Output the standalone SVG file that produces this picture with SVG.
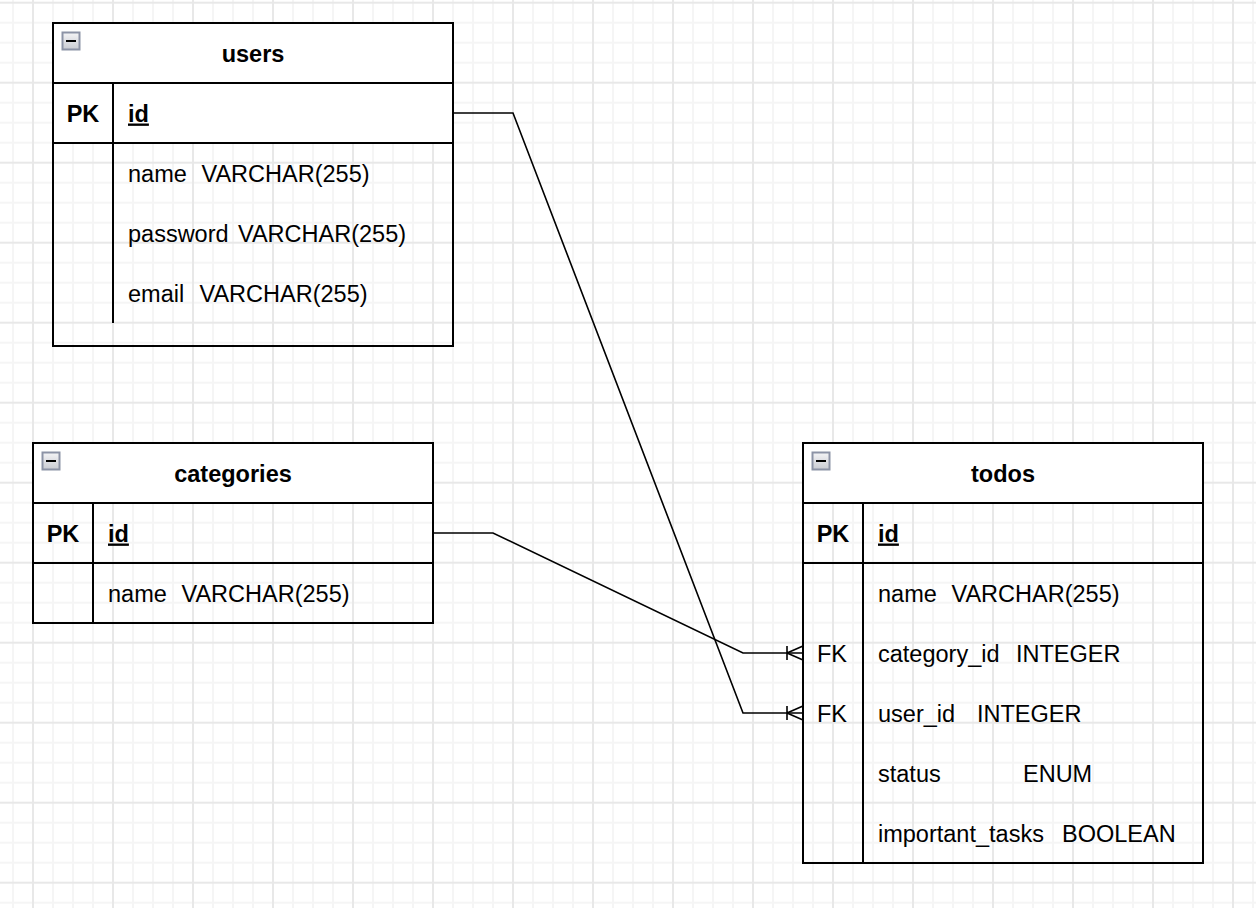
<svg xmlns="http://www.w3.org/2000/svg" width="1256" height="908" viewBox="0 0 1256 908" xml:space="preserve">
  <defs>
    <!-- background grid: minor lines every 20px, major every 80px -->
    <pattern id="grid" patternUnits="userSpaceOnUse" x="3" y="-27.3" width="80" height="80">
      <g stroke="#f5f5f5" stroke-width="2">
        <line x1="10" y1="0" x2="10" y2="80"/>
        <line x1="50" y1="0" x2="50" y2="80"/>
        <line x1="70" y1="0" x2="70" y2="80"/>
        <line x1="0" y1="10" x2="80" y2="10"/>
        <line x1="0" y1="50" x2="80" y2="50"/>
        <line x1="0" y1="70" x2="80" y2="70"/>
      </g>
      <g stroke="#e8e8e8" stroke-width="2">
        <line x1="30" y1="0" x2="30" y2="80"/>
        <line x1="0" y1="30" x2="80" y2="30"/>
      </g>
    </pattern>
    <linearGradient id="btnFill" x1="0" y1="0" x2="0" y2="1">
      <stop offset="0" stop-color="#f4f4f6"/>
      <stop offset="1" stop-color="#c9cbd2"/>
    </linearGradient>
    <!-- collapse button drawn in each table header -->
    <g id="collapse">
      <rect x="0" y="0" width="17" height="17" fill="url(#btnFill)" stroke="#8c93a6" stroke-width="2"/>
      <rect x="3.5" y="7.5" width="10" height="2" fill="#000"/>
    </g>
  </defs>
  <style>
    .frame { fill: none; stroke: #000; stroke-width: 2; }
    .sep { stroke: #000; stroke-width: 2; }
    .head { fill: #fff; }
    .title { font-family: "Liberation Sans", Helvetica, Arial, sans-serif; font-size: 23.5px; font-weight: bold; text-anchor: middle; fill: #000; }
    .key { font-family: "Liberation Sans", Helvetica, Arial, sans-serif; font-size: 23.5px; font-weight: bold; text-anchor: middle; fill: #000; }
    .fk { font-family: "Liberation Sans", Helvetica, Arial, sans-serif; font-size: 23.5px; text-anchor: middle; fill: #000; }
    .pkname { font-family: "Liberation Sans", Helvetica, Arial, sans-serif; font-size: 23.5px; font-weight: bold; text-decoration: underline; fill: #000; }
    .field { font-family: "Liberation Sans", Helvetica, Arial, sans-serif; font-size: 23.5px; fill: #000; }
    .edge { fill: none; stroke: #000; stroke-width: 1.6; }
  </style>

  <rect x="0" y="0" width="1256" height="908" fill="#fff"/>
  <rect x="0" y="0" width="1256" height="908" fill="url(#grid)"/>

  <!-- relationships -->
  <g id="connectors">
    <g id="edge-users-todos">
      <path class="edge" d="M453,113 H513 L743,713 H803"/>
      <path class="edge" d="M787,706 V720 M787,713 L803,706 M787,713 L803,720"/>
    </g>
    <g id="edge-categories-todos">
      <path class="edge" d="M433,533 H493 L743,653 H803"/>
      <path class="edge" d="M787,646 V660 M787,653 L803,646 M787,653 L803,660"/>
    </g>
  </g>

  <!-- users table -->
  <g id="node-users">
    <rect class="head" x="53" y="23" width="400" height="120"/>
    <rect class="frame" x="53" y="23" width="400" height="323"/>
    <line class="sep" x1="53" y1="83" x2="453" y2="83"/>
    <line class="sep" x1="53" y1="143" x2="453" y2="143"/>
    <line class="sep" x1="113" y1="83" x2="113" y2="323"/>
    <use href="#collapse" x="62.5" y="32.5"/>
    <text class="title" x="253" y="62">users</text>
    <text class="key" x="83" y="121.5">PK</text>
    <text class="pkname" x="128" y="121.5">id</text>
    <text class="field" x="128" y="181.5">name  <tspan x="201.5">VARCHAR(255)</tspan></text>
    <text class="field" x="128" y="241.5">password <tspan x="238">VARCHAR(255)</tspan></text>
    <text class="field" x="128" y="301.5">email  <tspan x="199.5">VARCHAR(255)</tspan></text>
  </g>

  <!-- categories table -->
  <g id="node-categories">
    <rect class="head" x="33" y="443" width="400" height="60"/>
    <rect class="frame" x="33" y="443" width="400" height="180"/>
    <line class="sep" x1="33" y1="503" x2="433" y2="503"/>
    <line class="sep" x1="33" y1="563" x2="433" y2="563"/>
    <line class="sep" x1="93" y1="503" x2="93" y2="623"/>
    <use href="#collapse" x="42.5" y="452.5"/>
    <text class="title" x="233" y="482">categories</text>
    <text class="key" x="63" y="541.5">PK</text>
    <text class="pkname" x="108" y="541.5">id</text>
    <text class="field" x="108" y="601.5">name  <tspan x="181.5">VARCHAR(255)</tspan></text>
  </g>

  <!-- todos table -->
  <g id="node-todos">
    <rect class="head" x="803" y="443" width="400" height="60"/>
    <rect class="frame" x="803" y="443" width="400" height="420"/>
    <line class="sep" x1="803" y1="503" x2="1203" y2="503"/>
    <line class="sep" x1="803" y1="563" x2="1203" y2="563"/>
    <line class="sep" x1="863" y1="503" x2="863" y2="863"/>
    <use href="#collapse" x="812.5" y="452.5"/>
    <text class="title" x="1003" y="482">todos</text>
    <text class="key" x="833" y="541.5">PK</text>
    <text class="pkname" x="878" y="541.5">id</text>
    <text class="field" x="878" y="601.5">name  <tspan x="951.5">VARCHAR(255)</tspan></text>
    <text class="fk" x="832" y="661.5">FK</text>
    <text class="field" x="878" y="661.5">category_id  <tspan x="1016">INTEGER</tspan></text>
    <text class="fk" x="832" y="721.5">FK</text>
    <text class="field" x="878" y="721.5">user_id   <tspan x="977">INTEGER</tspan></text>
    <text class="field" x="878" y="781.5">status           <tspan x="1023">ENUM</tspan></text>
    <text class="field" x="878" y="841.5">important_tasks  <tspan x="1062">BOOLEAN</tspan></text>
  </g>
</svg>
